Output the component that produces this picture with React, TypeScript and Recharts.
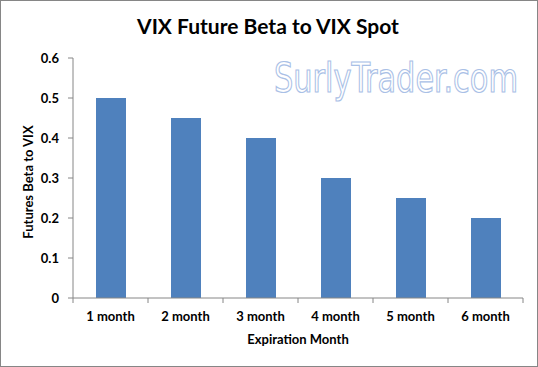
import { BarChart, Bar, XAxis, YAxis, Label } from "recharts";

const months = ["1 month", "2 month", "3 month", "4 month", "5 month", "6 month"];
const betas = [0.5, 0.45, 0.4, 0.3, 0.25, 0.2];
const yTicks = [0, 0.1, 0.2, 0.3, 0.4, 0.5, 0.6];

const W = 538;
const H = 367;
const LEFT = 73;
const RIGHT = 15;
const BAND = (W - LEFT - RIGHT) / months.length;
const AXIS = "#868686";
const FONT = "Lato, 'Open Sans', sans-serif";

const data = months.map((m, i) => ({ month: m, beta: betas[i] }));

function MonthTick(props: any) {
  const { x, y, payload, index } = props;
  const left = x - BAND / 2;
  return (
    <g>
      <line x1={left} x2={left} y1={y} y2={y + 5} stroke={AXIS} />
      {index === months.length - 1 && (
        <line x1={x + BAND / 2} x2={x + BAND / 2} y1={y} y2={y + 5} stroke={AXIS} />
      )}
      <text x={x} y={y + 23} textAnchor="middle" fontSize={13} fontWeight={700} fill="#000">
        {payload.value}
      </text>
    </g>
  );
}

export default function App() {
  return (
    <div style={{ position: "relative", width: W, height: H, fontFamily: FONT, background: "#fff" }}>
      <style>{"body{margin:0}"}</style>
      <BarChart
        width={W}
        height={H}
        data={data}
        margin={{ top: 58, right: RIGHT, left: 0, bottom: 0 }}
        barSize={30}
      >
        <XAxis
          dataKey="month"
          height={69}
          interval={0}
          tickLine={false}
          tickSize={0}
          tickMargin={0}
          axisLine={{ stroke: AXIS }}
          tick={<MonthTick />}
        >
          <Label
            content={(p: any) => {
              const vb = p.viewBox;
              return (
                <text x={vb.x + vb.width / 2} y={vb.y + 46} textAnchor="middle" fontSize={13} fontWeight={700} fill="#000">
                  Expiration Month
                </text>
              );
            }}
          />
        </XAxis>
        <XAxis xAxisId="top" orientation="top" dataKey="month" height={0} tick={false} tickLine={false} axisLine={{ stroke: AXIS }} />
        <YAxis
          width={LEFT}
          domain={[0, 0.6]}
          ticks={yTicks}
          interval={0}
          tickSize={5}
          tickMargin={9}
          tickLine={{ stroke: AXIS }}
          axisLine={{ stroke: AXIS }}
          tick={{ fill: "#000", fontSize: 13, fontWeight: 700 }}
        >
          <Label
            content={(p: any) => {
              const vb = p.viewBox;
              const cx = vb.x + 28;
              const cy = vb.y + vb.height / 2 + 4;
              return (
                <text
                  x={cx}
                  y={cy}
                  transform={`rotate(-90 ${cx} ${cy})`}
                  textAnchor="middle"
                  dominantBaseline="central"
                  fontSize={13}
                  fontWeight={700}
                  fill="#000"
                >
                  Futures Beta to VIX
                </text>
              );
            }}
          />
        </YAxis>
        <YAxis yAxisId="r" orientation="right" width={0} tick={false} tickLine={false} axisLine={{ stroke: AXIS }} />
        <Bar dataKey="beta" fill="#4F81BD" isAnimationActive={false} />
      </BarChart>
      <svg width={W} height={H} style={{ position: "absolute", left: 0, top: 0, pointerEvents: "none" }}>
        <text x={268} y={34} textAnchor="middle" fontSize={21} fontWeight={700} fill="#000" fontFamily={FONT}>
          VIX Future Beta to VIX Spot
        </text>
        <text
          x={274}
          y={92}
          textLength={244}
          lengthAdjust="spacingAndGlyphs"
          fontSize={41}
          fontFamily="'DejaVu Sans', sans-serif"
          fontStretch="condensed"
          fill="#fff"
          stroke="#a9c0e6"
          strokeWidth={1.2}
        >
          SurlyTrader.com
        </text>
        <rect x={0.5} y={0.5} width={W - 1} height={H - 1} fill="none" stroke={AXIS} />
      </svg>
    </div>
  );
}
